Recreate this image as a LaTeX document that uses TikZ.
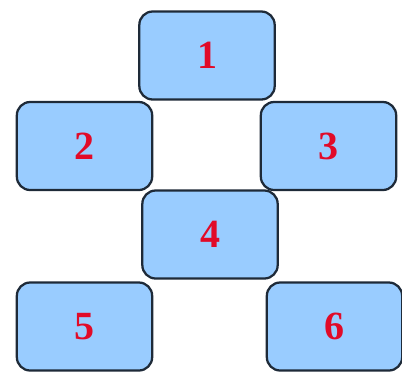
\documentclass[tikz,border=0pt]{standalone}
\usepackage{fontspec}
\setmainfont{Liberation Serif}
\usetikzlibrary{positioning}
\definecolor{boxblue}{RGB}{153,204,255}
\definecolor{boxline}{RGB}{30,42,56}
\definecolor{numred}{RGB}{225,10,40}

\begin{document}
\begin{tikzpicture}[x=0.75pt, y=-0.75pt,
    tile/.style={draw=boxline, line width=1.7pt, fill=boxblue, rounded corners=10pt,
      minimum width=101.5pt, minimum height=66pt, inner sep=0pt,
      font=\fontsize{30}{32}\selectfont\bfseries, text=numred}]
    \useasboundingbox (0,0) rectangle (402,372);
    % six tiles, numbered
    \foreach \n/\x/\y in {1/207/55.5, 2/84.5/146, 3/328.5/146, 4/210/234.5, 5/84.5/326.5, 6/334.5/326.5} {
      \node[tile] (t\n) at (\x,\y) {\raisebox{-1.5pt}{\n}};
    }
  \end{tikzpicture}
\end{document}
